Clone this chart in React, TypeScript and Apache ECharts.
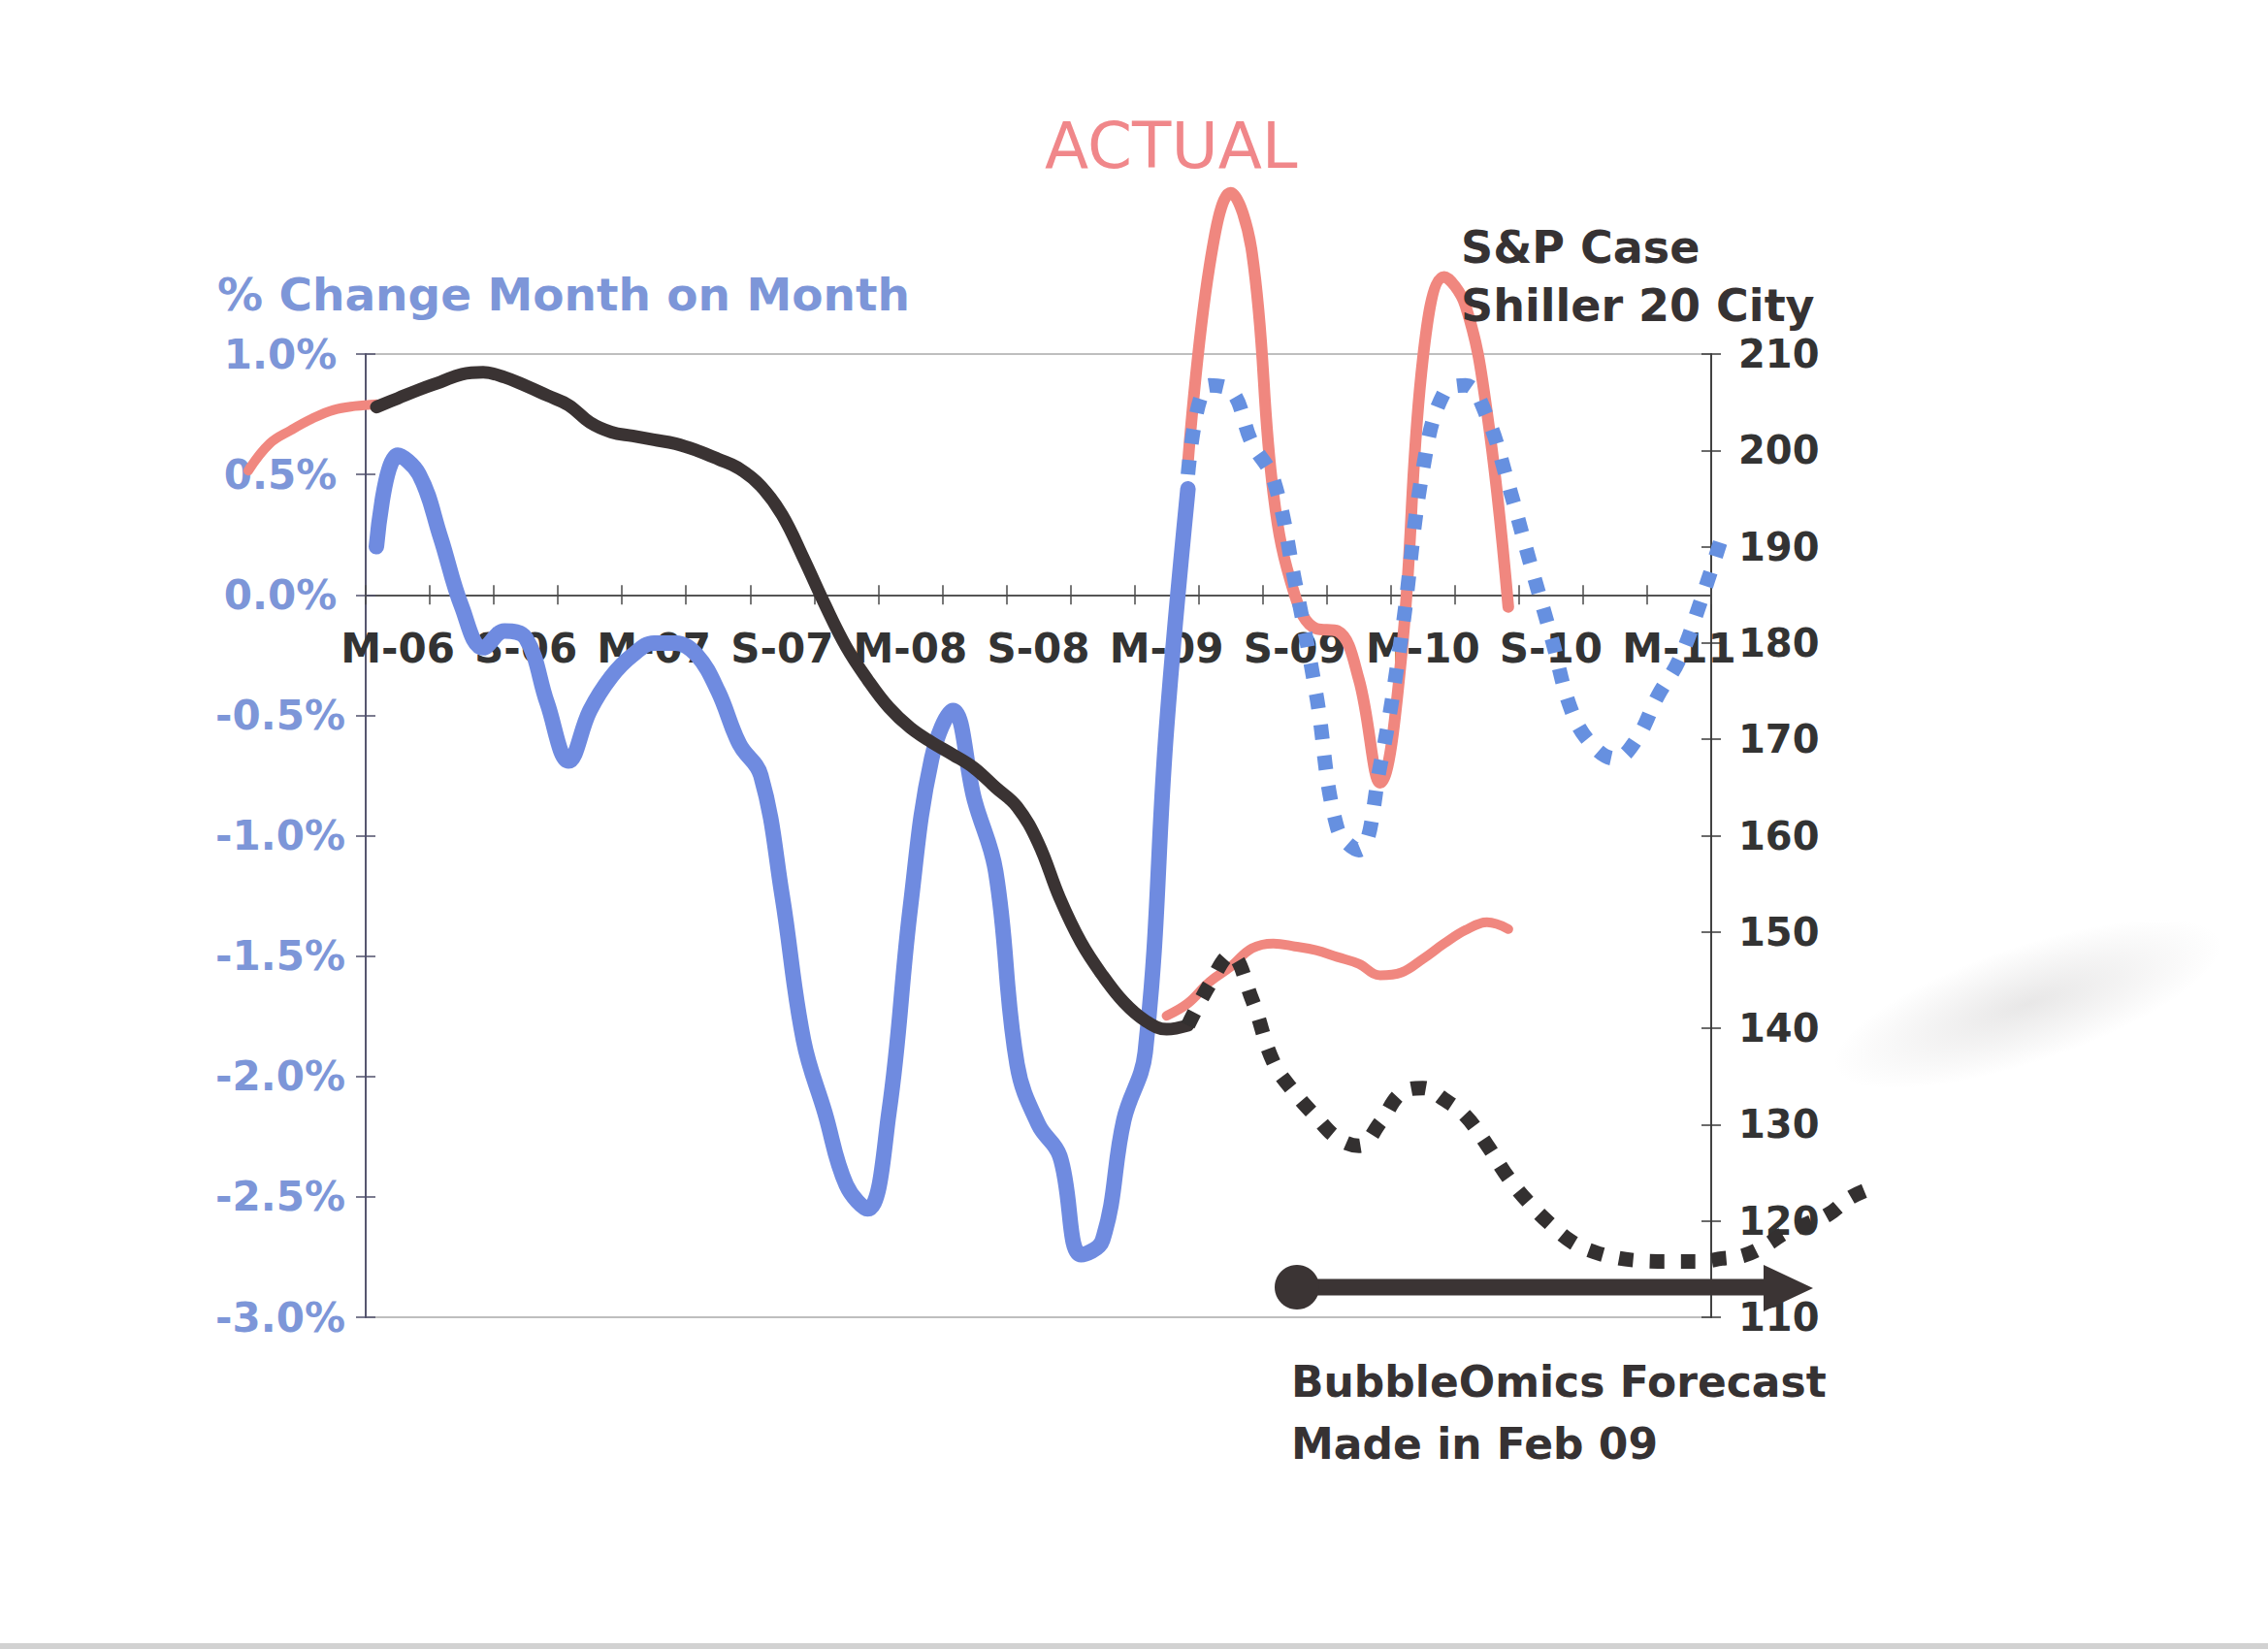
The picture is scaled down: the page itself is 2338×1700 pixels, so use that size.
import React, { useEffect, useRef } from "react";
import * as echarts from "echarts";

// ---------- categories (months, Feb-06 .. Apr-11) ----------
const months = [
  "Feb-06", "Mar-06", "Apr-06", "May-06", "Jun-06", "Jul-06", "Aug-06", "Sep-06", "Oct-06", "Nov-06", "Dec-06",
  "Jan-07", "Feb-07", "Mar-07", "Apr-07", "May-07", "Jun-07", "Jul-07", "Aug-07", "Sep-07", "Oct-07", "Nov-07", "Dec-07",
  "Jan-08", "Feb-08", "Mar-08", "Apr-08", "May-08", "Jun-08", "Jul-08", "Aug-08", "Sep-08", "Oct-08", "Nov-08", "Dec-08",
  "Jan-09", "Feb-09", "Mar-09", "Apr-09", "May-09", "Jun-09", "Jul-09", "Aug-09", "Sep-09", "Oct-09", "Nov-09", "Dec-09",
  "Jan-10", "Feb-10", "Mar-10", "Apr-10", "May-10", "Jun-10", "Jul-10", "Aug-10", "Sep-10", "Oct-10", "Nov-10", "Dec-10",
  "Jan-11", "Feb-11", "Mar-11", "Apr-11",
];

// ---------- series values (month index 0 = Feb-06) ----------
// % change month on month (left axis), from Feb-06
const pctChangeStart = 0;
const pctChange = [
  0.2, 0.58, 0.5, 0.24, -0.05, -0.22, -0.15, -0.18, -0.45, -0.69,
  -0.48, -0.34, -0.25, -0.2, -0.2, -0.25, -0.4, -0.62, -0.75, -1.25,
  -1.85, -2.15, -2.45, -2.55, -2.15, -1.3, -0.68, -0.48, -0.85, -1.15,
  -1.95, -2.2, -2.33, -2.74, -2.68, -2.18, -1.9, -0.55, 0.44,
];

// S&P Case Shiller 20 City index (right axis), from Feb-06
const caseShillerStart = 0;
const caseShiller = [
  204.5, 205.4, 206.3, 207.1, 207.9, 208.1, 207.6, 206.7, 205.7, 204.7,
  202.9, 201.9, 201.5, 201.1, 200.7, 200.0, 199.1, 198.1, 196.3, 193.3,
  188.8, 184.0, 179.6, 176.2, 173.3, 171.2, 169.7, 168.4, 167.0, 165.0,
  163.0, 159.2, 153.5, 148.9, 145.5, 142.7, 140.8, 139.9, 140.3,
];

// ACTUAL index before the chart window (right axis), from Aug-05
const actualIndexEarlyStart = -6;
const actualIndexEarly = [197.9, 200.7, 202.1, 203.3, 204.2, 204.6, 204.8];

// ACTUAL index after the forecast date (right axis), from Mar-09
const actualIndexLateStart = 37;
const actualIndexLate = [
  141.3, 142.6, 144.8, 146.4, 148.3, 148.8, 148.5, 148.1, 147.4, 146.7,
  145.5, 145.8, 147.2, 148.8, 150.2, 151.0, 150.3,
];

// ACTUAL % change month on month (left axis), from Apr-09
const actualPctStart = 38;
const actualPct = [
  0.55, 1.36, 1.67, 1.42, 0.42, 0.0, -0.14, -0.15, -0.35, -0.78,
  -0.25, 0.98, 1.32, 1.2, 0.76, -0.05,
];

// BubbleOmics forecast, % change month on month (left axis), from Apr-09
const forecastPctStart = 38;
const forecastPct = [
  0.5, 0.87, 0.85, 0.63, 0.48, 0.06, -0.41, -0.97, -1.06, -0.71,
  -0.17, 0.52, 0.84, 0.87, 0.74, 0.46, 0.14, -0.17, -0.49, -0.63,
  -0.68, -0.6, -0.42, -0.27, -0.03, 0.24,
];

// BubbleOmics forecast, index level (right axis), from Apr-09 (runs past the axis)
const forecastIndexStart = 38;
const forecastIndex = [
  140.3, 144.5, 147.6, 143.0, 136.5, 133.3, 130.8, 128.6, 127.8, 130.2,
  133.3, 133.8, 132.6, 130.9, 127.9, 124.5, 121.8, 119.6, 117.8, 116.8,
  116.2, 115.9, 115.8, 115.8, 115.8, 116.1, 116.4, 117.4, 118.8, 119.7,
  120.7, 122.4, 123.4,
];

// axis ranges / tick steps
const pctAxis = { min: -3, max: 1, interval: 0.5 };
const indexAxis = { min: 110, max: 210, interval: 10 };

// ---------- layout ----------
const W = 2338;
const H = 1700;
const plotLeft = 377;
const plotRight = 1764;
const plotTop = 365;
const plotBottom = 1358;
const plotH = plotBottom - plotTop;
const monthW = (plotRight - plotLeft) / months.length;
const overlayMin = -9.5;
const overlayMax = 72.5;
const zeroOffset = -(plotH * (0 - pctAxis.min)) / (pctAxis.max - pctAxis.min);

const FONT = "'DejaVu Sans', 'Liberation Sans', sans-serif";
const BLUE_TEXT = "#7d96d8";
const DARK = "#363233";
const PINK = "#f0877f";

const pairs = (start: number, arr: number[]) => arr.map((v, i) => [start + i, v]);

function buildOption() {
  const catAxis = (inside: boolean) => ({
    type: "category",
    data: months,
    position: "bottom",
    offset: zeroOffset,
    boundaryGap: true,
    gridIndex: 0,
    axisLine: { show: true, onZero: false, lineStyle: { color: "#4a4a4a", width: 1.5 } },
    axisTick: {
      show: true,
      inside,
      length: 10,
      interval: (i: number) => i % 3 === 0,
      lineStyle: { color: "#4a4a4a", width: 1.5 },
    },
    axisLabel: {
      show: !inside,
      interval: (i: number) => i % 6 === 1,
      formatter: (v: string) => v.charAt(0) + "-" + v.slice(4),
      margin: 34,
      color: "#333333",
      fontSize: 42,
      fontWeight: "bold",
      fontFamily: FONT,
    },
    splitLine: { show: false },
  });

  const pctY = (inside: boolean) => ({
    type: "value",
    gridIndex: 0,
    position: "left",
    min: pctAxis.min,
    max: pctAxis.max,
    interval: pctAxis.interval,
    axisLine: { show: true, onZero: false, lineStyle: { color: "#4f4f6a", width: 1.5 } },
    axisTick: { show: true, inside, length: 10, lineStyle: { color: "#4f4f6a", width: 1.5 } },
    axisLabel: {
      show: !inside,
      formatter: (v: number) => v.toFixed(1) + "%",
      color: BLUE_TEXT,
      fontSize: 42,
      fontWeight: "bold",
      fontFamily: FONT,
      align: "center",
      margin: 88,
    },
    splitLine: { show: false },
  });

  const idxY = (inside: boolean) => ({
    type: "value",
    gridIndex: 0,
    position: "right",
    min: indexAxis.min,
    max: indexAxis.max,
    interval: indexAxis.interval,
    axisLine: { show: true, onZero: false, lineStyle: { color: "#3a3a3a", width: 1.5 } },
    axisTick: { show: true, inside, length: 10, lineStyle: { color: "#3a3a3a", width: 1.5 } },
    axisLabel: {
      show: !inside,
      color: "#333333",
      fontSize: 40,
      fontWeight: "bold",
      fontFamily: FONT,
      margin: 28,
    },
    splitLine: { show: false },
  });

  const hiddenY = (range: { min: number; max: number }) => ({
    type: "value",
    gridIndex: 1,
    min: range.min,
    max: range.max,
    show: false,
    splitLine: { show: false },
  });

  const line = (
    name: string,
    data: number[][],
    yAxisIndex: number,
    color: string,
    width: number,
    dotted: boolean,
    z: number
  ) => ({
    name,
    type: "line",
    xAxisIndex: 2,
    yAxisIndex,
    data,
    smooth: 0.4,
    symbol: "none",
    clip: false,
    z,
    lineStyle: {
      color,
      width,
      type: dotted ? [15, 17] : "solid",
      cap: dotted ? "butt" : "round",
      join: "round",
    },
  });

  const txt = (text: string, x: number, y: number, color: string, size: number, weight: string) => ({
    type: "text",
    x,
    y,
    z: 50,
    style: {
      text,
      fill: color,
      font: `${weight} ${size}px ${FONT}`,
      align: "left",
      verticalAlign: "middle",
    },
  });

  return {
    animation: false,
    backgroundColor: "#ffffff",
    grid: [
      {
        left: plotLeft,
        right: W - plotRight,
        top: plotTop,
        bottom: H - plotBottom,
        show: true,
        borderColor: "#a9a9a9",
        borderWidth: 1.5,
      },
      {
        left: plotLeft + (overlayMin + 0.5) * monthW,
        right: W - (plotLeft + (overlayMax + 0.5) * monthW),
        top: plotTop,
        bottom: H - plotBottom,
        show: false,
      },
    ],
    xAxis: [
      catAxis(false),
      catAxis(true),
      { type: "value", gridIndex: 1, min: overlayMin, max: overlayMax, show: false, splitLine: { show: false } },
    ],
    yAxis: [pctY(false), idxY(false), pctY(true), idxY(true), hiddenY(pctAxis), hiddenY(indexAxis)],
    series: [
      line("Actual % change", pairs(actualPctStart, actualPct), 4, PINK, 12, false, 2),
      line("Actual index (early)", pairs(actualIndexEarlyStart, actualIndexEarly), 5, PINK, 10, false, 2),
      line("Actual index", pairs(actualIndexLateStart, actualIndexLate), 5, PINK, 10, false, 2),
      line("% Change Month on Month", pairs(pctChangeStart, pctChange), 4, "#6f8be0", 16, false, 3),
      line("S&P Case Shiller 20 City", pairs(caseShillerStart, caseShiller), 5, "#3a3333", 13, false, 4),
      line("Forecast % change", pairs(forecastPctStart, forecastPct), 4, "#6690e0", 15, true, 5),
      line("Forecast index", pairs(forecastIndexStart, forecastIndex), 5, "#333030", 15, true, 5),
    ],
    graphic: [
      {
        type: "ellipse",
        z: 0,
        x: 2090,
        y: 1035,
        rotation: 0.32,
        shape: { cx: 0, cy: 0, rx: 210, ry: 60 },
        style: {
          fill: new echarts.graphic.RadialGradient(0.5, 0.5, 0.5, [
            { offset: 0, color: "rgba(120,115,115,0.17)" },
            { offset: 1, color: "rgba(120,115,115,0)" },
          ]),
        },
      },
      txt("ACTUAL", 1077, 150, "#f0878a", 66, "normal"),
      txt("% Change Month on Month", 224, 303, BLUE_TEXT, 47, "bold"),
      txt("S&P Case", 1506, 255, DARK, 46, "bold"),
      txt("Shiller 20 City", 1506, 315, DARK, 46, "bold"),
      txt("BubbleOmics Forecast", 1331, 1424, DARK, 44, "bold"),
      txt("Made in Feb 09", 1331, 1488, DARK, 44, "bold"),
      {
        type: "line",
        z: 40,
        shape: { x1: 1337, y1: 1327, x2: 1826, y2: 1327 },
        style: { stroke: "#3b3434", lineWidth: 17 },
      },
      {
        type: "polygon",
        z: 40,
        shape: { points: [[1818, 1304], [1869, 1328], [1818, 1352]] },
        style: { fill: "#3b3434" },
      },
      {
        type: "circle",
        z: 40,
        shape: { cx: 1337, cy: 1327, r: 23 },
        style: { fill: "#3b3434" },
      },
      {
        type: "rect",
        z: 40,
        shape: { x: 0, y: 1694, width: W, height: 6 },
        style: { fill: "#d2d2d2" },
      },
    ],
  };
}

export default function App() {
  const ref = useRef<HTMLDivElement>(null);
  useEffect(() => {
    if (!ref.current) return;
    const chart = echarts.init(ref.current, undefined, { renderer: "svg" });
    chart.setOption(buildOption() as any);
    return () => chart.dispose();
  }, []);
  return (
    <div
      ref={ref}
      style={{ position: "absolute", left: 0, top: 0, width: W, height: H, background: "#fff" }}
    />
  );
}
